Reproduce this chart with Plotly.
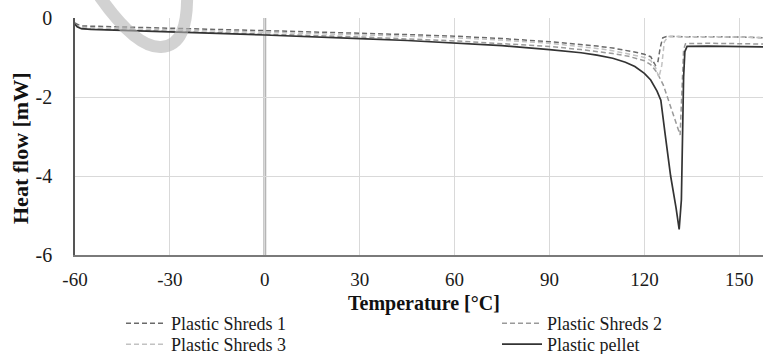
import plotly.graph_objects as go

# ---- data ----
temp_pellet = [-60, -59.3, -58, -55, -50, -40, -30, -15, 0, 15, 30, 45, 60, 75, 90, 100, 105, 110, 114, 117,
               120, 122, 124, 125.2, 126.5, 128.3, 130, 131, 131.7, 132.1, 132.4, 132.8, 133.5, 140, 150, 157.5]
pellet = [-0.16, -0.22, -0.27, -0.29, -0.3, -0.33, -0.35, -0.39, -0.43, -0.47, -0.52, -0.57, -0.63, -0.7, -0.8,
          -0.88, -0.94, -1.02, -1.12, -1.23, -1.4, -1.57, -1.85, -2.08, -2.9, -4.0, -4.8, -5.35, -4.6, -3.0,
          -1.5, -0.85, -0.72, -0.71, -0.72, -0.73]

temp_s1 = [-60, -59.3, -58, -50, -40, -30, -15, 0, 15, 30, 45, 60, 75, 90, 100, 105, 110, 115, 118, 120,
           122, 123.5, 124.3, 125, 125.8, 127, 140, 150, 157.5]
shreds1 = [-0.12, -0.16, -0.2, -0.22, -0.24, -0.26, -0.29, -0.32, -0.35, -0.38, -0.42, -0.46, -0.52, -0.6,
           -0.67, -0.71, -0.76, -0.83, -0.88, -0.92, -0.98, -1.2, -1.1, -0.75, -0.5, -0.47, -0.47, -0.48, -0.5]

temp_s2 = [-60, -59.3, -58, -50, -40, -30, -15, 0, 15, 30, 45, 60, 75, 90, 100, 105, 110, 115, 120, 122,
           124, 126, 128, 130, 131.3, 131.9, 132.4, 133, 140, 150, 157.5]
shreds2 = [-0.16, -0.22, -0.27, -0.29, -0.31, -0.33, -0.36, -0.4, -0.44, -0.48, -0.53, -0.58, -0.65, -0.72,
           -0.8, -0.85, -0.9, -0.97, -1.08, -1.18, -1.38, -1.7, -2.15, -2.65, -2.96, -1.8, -0.8, -0.65,
           -0.64, -0.65, -0.66]

temp_s3 = [-60, -59.3, -58, -50, -40, -30, -15, 0, 15, 30, 45, 60, 75, 90, 100, 105, 110, 115, 118, 120,
           122, 123.5, 124.6, 125.5, 126.3, 127.5, 140, 150, 157.5]
shreds3 = [-0.16, -0.2, -0.24, -0.26, -0.28, -0.3, -0.33, -0.36, -0.39, -0.42, -0.46, -0.5, -0.56, -0.64,
           -0.72, -0.77, -0.83, -0.9, -0.96, -1.0, -1.08, -1.25, -1.5, -1.2, -0.6, -0.47, -0.47, -0.48, -0.5]

x_ticks = [-60, -30, 0, 30, 60, 90, 120, 150]
y_ticks = [0, -2, -4, -6]

FONT = "Liberation Serif, Times New Roman, serif"
DASH = "5px,3px"

fig = go.Figure()
fig.add_trace(go.Scatter(x=temp_s1, y=shreds1, mode="lines", name="Plastic Shreds 1",
                         line=dict(color="#6a6a6a", width=1.5, dash=DASH), legend="legend"))
fig.add_trace(go.Scatter(x=temp_s2, y=shreds2, mode="lines", name="Plastic Shreds 2",
                         line=dict(color="#9a9a9a", width=1.5, dash=DASH), legend="legend2"))
fig.add_trace(go.Scatter(x=temp_s3, y=shreds3, mode="lines", name="Plastic Shreds 3",
                         line=dict(color="#c2c2c2", width=1.5, dash=DASH), legend="legend3"))
fig.add_trace(go.Scatter(x=temp_pellet, y=pellet, mode="lines", name="Plastic pellet",
                         line=dict(color="#333333", width=1.7), legend="legend4"))

W, H = 765, 354
L, R, T, B = 75, 2, 18, 99
PW, PH = W - L - R, H - T - B


def px(xp):
    return (xp - L) / PW


def py(yp):
    return (H - B - yp) / PH


xtickfont = dict(family=FONT, size=19, color="#1a1a1a")
ytickfont = dict(family=FONT, size=20, color="#1a1a1a")
legfont = dict(family=FONT, size=18, color="#1a1a1a")


def leg(xp, yp):
    return dict(x=px(xp), y=py(yp), xanchor="left", yanchor="top", orientation="v",
                bgcolor="rgba(0,0,0,0)", font=legfont, itemwidth=40)


fig.update_layout(
    width=W, height=H,
    margin=dict(l=L, r=R, t=T, b=B, autoexpand=False),
    paper_bgcolor="white", plot_bgcolor="white",
    font=dict(family=FONT, size=19, color="#1a1a1a"),
    showlegend=True,
    xaxis=dict(range=[-60, 157.5], tickvals=x_ticks, ticktext=[str(v) for v in x_ticks],
               showgrid=True, gridcolor="#d9d9d9", gridwidth=1, zeroline=False,
               showline=True, linecolor="#7a7a7a", linewidth=2, automargin=False,
               ticks="", ticklabelstandoff=6, tickfont=xtickfont),
    xaxis2=dict(range=[-60, 157.5], overlaying="x", side="top", tickvals=x_ticks,
                showticklabels=False, showgrid=False, zeroline=False, automargin=False,
                showline=True, linecolor="#333333", linewidth=1.5,
                ticks="inside", ticklen=6, tickcolor="#333333", tickwidth=1.5),
    yaxis=dict(range=[-6, 0], tickvals=y_ticks, ticktext=[str(v) for v in y_ticks],
               showgrid=True, gridcolor="#d9d9d9", gridwidth=1, zeroline=False,
               showline=True, linecolor="#555555", linewidth=1.5, automargin=False,
               ticks="", ticklabelstandoff=17, tickfont=ytickfont),
    legend=leg(121, 305),
    legend2=leg(497, 305),
    legend3=leg(121, 326),
    legend4=leg(497, 326),
)

# zero line at x=0 (thick grey)
fig.add_shape(type="line", xref="x", yref="paper", x0=0, x1=0, y0=0, y1=1,
              line=dict(color="#b5b5b5", width=3), layer="below")

# axis titles
fig.add_annotation(text="<b>Temperature [°C]</b>", xref="paper", yref="paper",
                   x=px(424), y=py(303), showarrow=False,
                   font=dict(size=20, family=FONT, color="#111111"), xanchor="center", yanchor="middle")
fig.add_annotation(text="<b>Heat flow [mW]</b>", xref="paper", yref="paper",
                   x=px(20), y=py(148), showarrow=False, textangle=-90,
                   font=dict(size=22, family=FONT, color="#111111"), xanchor="center", yanchor="middle")

# faint watermark stroke seen at top-left of the reference
fig.add_shape(type="path", xref="paper", yref="paper",
              path="M 0.036,1.09 C 0.07,0.95 0.10,0.875 0.125,0.878 C 0.155,0.882 0.163,0.97 0.163,1.09",
              line=dict(color="rgba(180,180,180,0.6)", width=12), layer="above")

fig.write_html("out.html", config={"displayModeBar": False},
               post_script="document.body.style.margin='0';document.body.style.overflow='hidden';")
